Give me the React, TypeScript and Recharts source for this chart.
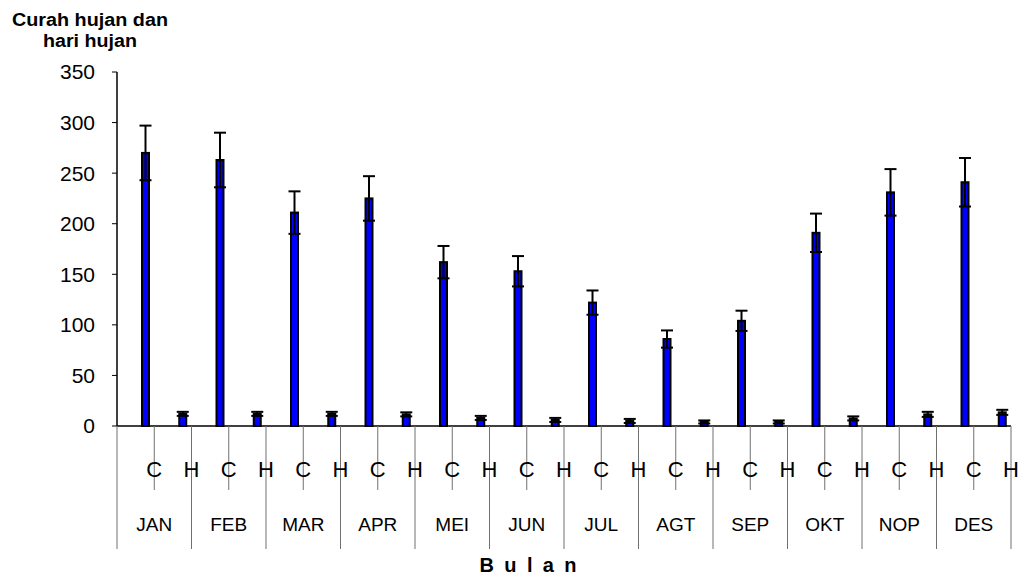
import { BarChart, Bar, XAxis, YAxis } from 'recharts';

const BULAN = ['JAN', 'FEB', 'MAR', 'APR', 'MEI', 'JUN', 'JUL', 'AGT', 'SEP', 'OKT', 'NOP', 'DES'];
const SUB_LABEL = ['C', 'H'];
const CURAH_HUJAN = [270, 263, 211, 225, 162, 153, 122, 86, 104, 191, 231, 241];
const CURAH_HUJAN_ERR = [27, 27, 21, 22, 16, 15, 12, 8.5, 10, 19, 23, 24];
const HARI_HUJAN = [12, 12, 12, 11.5, 8, 6, 5, 4, 4, 7.5, 11.5, 13.5];
const HARI_HUJAN_ERR = [2, 2, 2, 2, 2, 2, 2, 1.5, 1.5, 2, 2.5, 2.5];
const Y_TICKS = [0, 50, 100, 150, 200, 250, 300, 350];

const CHART_W = 1019;
const CHART_H = 575;
const PLOT_LEFT = 117;
const PLOT_RIGHT = 1011;
const PLOT_TOP = 72;
const PLOT_BOTTOM = 426;
const BAND = (PLOT_RIGHT - PLOT_LEFT) / (BULAN.length * SUB_LABEL.length);
const BAR_SHIFT = 10;
const FONT = 'Arial, "Liberation Sans", sans-serif';

const rows = BULAN.flatMap((b, i) => [
  { key: `${b}-C`, bulan: b, sub: SUB_LABEL[0], nilai: CURAH_HUJAN[i], err: CURAH_HUJAN_ERR[i] },
  { key: `${b}-H`, bulan: b, sub: SUB_LABEL[1], nilai: HARI_HUJAN[i], err: HARI_HUJAN_ERR[i] },
]);

// bar with thick outline + error bar drawn on top
// eslint-disable-next-line @typescript-eslint/no-explicit-any
function BarWithError(props: any) {
  const { x, y, width, height, payload } = props;
  if (!height || height <= 0) return null;
  const bx = x + BAR_SHIFT;
  const cx = bx + width / 2;
  const ppu = height / payload.nilai;
  const top = y - payload.err * ppu;
  const low = y + payload.err * ppu;
  return (
    <g>
      <rect x={bx + 1} y={y} width={width - 2} height={height} fill="#0000FF" stroke="#000" strokeWidth={2} />
      <line x1={cx} x2={cx} y1={top} y2={low} stroke="#000" strokeWidth={2} />
      <line x1={cx - 6} x2={cx + 6} y1={top} y2={top} stroke="#000" strokeWidth={2} />
      <line x1={cx - 6} x2={cx + 6} y1={low} y2={low} stroke="#000" strokeWidth={2} />
    </g>
  );
}

// two-level category axis: C / H per month, month names underneath
// eslint-disable-next-line @typescript-eslint/no-explicit-any
function KategoriTick(props: any) {
  const { x, payload } = props;
  const i = payload.index;
  const row = rows[i];
  const isH = i % 2 === 1;
  const right = x + BAND / 2;
  return (
    <g>
      {i === 0 && (
        <line x1={x - BAND / 2} x2={x - BAND / 2} y1={PLOT_BOTTOM} y2={549} stroke="#707070" strokeWidth={1} />
      )}
      <line x1={right} x2={right} y1={PLOT_BOTTOM} y2={isH ? 549 : 490} stroke="#707070" strokeWidth={1} />
      <text x={right} y={469} textAnchor="middle" dominantBaseline="central" fontFamily={FONT} fontSize={22} fill="#000">
        {row.sub}
      </text>
      {isH && (
        <text x={x - BAND / 2} y={524} textAnchor="middle" dominantBaseline="central" fontFamily={FONT} fontSize={19} fill="#000">
          {row.bulan}
        </text>
      )}
    </g>
  );
}

export default function App() {
  return (
    <div style={{ position: 'absolute', left: 0, top: 0, width: CHART_W, height: CHART_H, background: '#fff' }}>
      <BarChart
        width={CHART_W}
        height={CHART_H}
        data={rows}
        margin={{ top: PLOT_TOP, right: CHART_W - PLOT_RIGHT, left: 0, bottom: 0 }}
        barSize={9}
      >
        <XAxis
          dataKey="key"
          interval={0}
          height={CHART_H - PLOT_BOTTOM}
          axisLine={{ stroke: '#000', strokeWidth: 1.5 }}
          tickLine={false}
          tick={<KategoriTick />}
        />
        <YAxis
          width={PLOT_LEFT}
          domain={[0, 350]}
          ticks={Y_TICKS}
          interval={0}
          axisLine={{ stroke: '#000', strokeWidth: 1.5 }}
          tickLine={{ stroke: '#000' }}
          tickSize={5}
          tickMargin={17}
          tick={{ fill: '#000', fontSize: 21, fontFamily: FONT }}
        />
        <Bar dataKey="nilai" isAnimationActive={false} shape={<BarWithError />} />
      </BarChart>
      <svg
        width={CHART_W}
        height={CHART_H}
        style={{ position: 'absolute', left: 0, top: 0, pointerEvents: 'none' }}
      >
        <text x={90} y={26} textAnchor="middle" fontFamily={FONT} fontWeight="bold" fontSize={18} textLength={156} lengthAdjust="spacingAndGlyphs">
          Curah hujan dan
        </text>
        <text x={90} y={47} textAnchor="middle" fontFamily={FONT} fontWeight="bold" fontSize={18} textLength={94} lengthAdjust="spacingAndGlyphs">
          hari hujan
        </text>
        <text x={528} y={572} textAnchor="middle" fontFamily={FONT} fontWeight="bold" fontSize={20} textLength={97} lengthAdjust="spacing">
          B u l a n
        </text>
      </svg>
    </div>
  );
}
